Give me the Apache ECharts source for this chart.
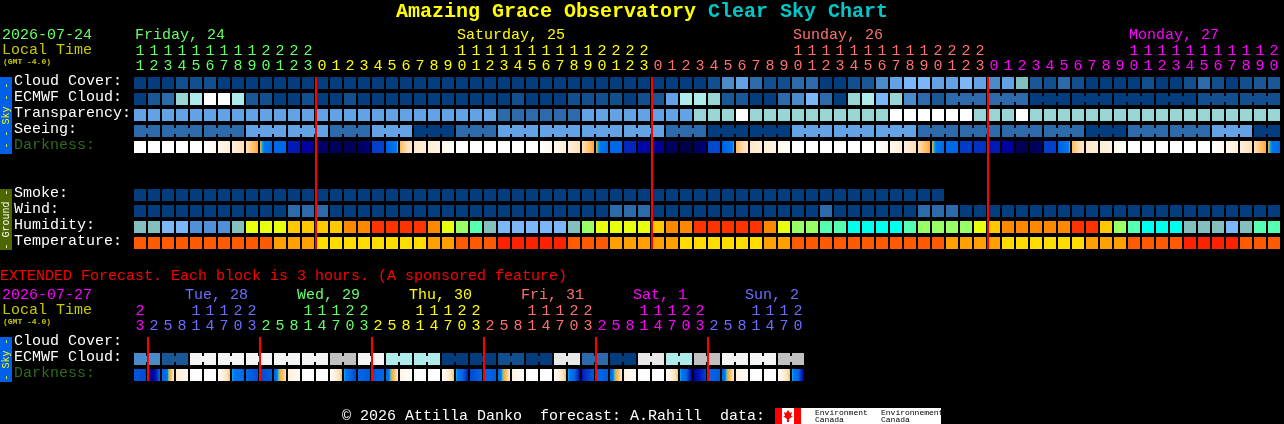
<!DOCTYPE html>
<html>
<head>
<meta charset="utf-8">
<style>html,body{margin:0;padding:0;background:#000}#c{width:1284px;height:424px}</style>
<script src="https://cdn.jsdelivr.net/npm/echarts@6/dist/echarts.min.js"></script>
</head>
<body>
<div id="c"></div>
<script>
// ---------- tick labels ----------
const mainHours = [11,12,13,14,15,16,17,18,19,20,21,22,23,
  0,1,2,3,4,5,6,7,8,9,10,11,12,13,14,15,16,17,18,19,20,21,22,23,
  0,1,2,3,4,5,6,7,8,9,10,11,12,13,14,15,16,17,18,19,20,21,22,23,
  0,1,2,3,4,5,6,7,8,9,10,11,12,13,14,15,16,17,18,19,20];
const extHours = [23,
  2,5,8,11,14,17,20,23, 2,5,8,11,14,17,20,23, 2,5,8,11,14,17,20,23,
  2,5,8,11,14,17,20,23, 2,5,8,11,14,17,20,23, 2,5,8,11,14,17,20];
const mainRows = ['Cloud Cover:','ECMWF Cloud:','Transparency:','Seeing:','Darkness:','',' ','Smoke:','Wind:','Humidity:','Temperature:'];
const extRows = ['Cloud Cover:','ECMWF Cloud:','Darkness:'];
const mainDays = [['Friday, 24',0],['Saturday, 25',23],['Sunday, 26',47],['Monday, 27',71]];
const extDays = [['Tue, 28',4],['Wed, 29',12],['Thu, 30',20],['Fri, 31',28],['Sat, 1',36],['Sun, 2',44]];
// first column of each day colour, for the two hour axes
const mainDayStarts = [0,13,37,61];
const extDayStarts = [0,1,9,17,25,33,41];
const mainMidnights = [13,37,61];
const extMidnights = [1,9,17,25,33,41];

// ---------- series values (levels) ----------
const cloudCover = [
 0,0,0,1,1,1,0,0,0,0,
 0,0,0,0,0,0,0,0,0,0,
 0,0,0,0,0,0,0,0,0,0,
 0,0,0,0,0,0,0,0,0,0,
 0,1,4,5,3,1,1,3,3,0,
 0,1,2,4,5,6,6,5,5,6,
 5,4,5,7,2,1,3,1,0,0,
 0,0,1,0,0,1,3,1,0,1,
 2,2];
const ecmwfCloud = [
 0,2,3,8,9,10,10,9,2,1,
 0,0,1,0,0,1,0,0,0,0,
 0,0,0,0,0,0,0,1,0,0,
 0,1,1,1,1,0,1,2,5,9,
 9,8,2,2,0,0,3,4,6,3,
 0,8,9,6,8,4,3,2,3,3,
 3,3,3,3,0,0,0,0,0,0,
 0,0,0,0,0,0,1,1,1,1,
 1,1];
const ecmwfGroupSizes = [1,1,1,1,1,1,1,1,1,1,1,1,1,1,1,1,1,1,1,1,1,1,1,1,1,1,1,1,1,
 1,1,1,1,1,1,1,1,1,1,1,1,1,1,1,1,1,1,1,1,1,1,1,1,1,1,1,1,1,3,3,3,3,3,3,3,3];
const transparency = [
 5,5,5,5,5,5,5,5,5,5,
 5,5,5,5,5,5,5,5,5,5,
 5,5,5,5,5,5,3,3,3,3,
 3,3,5,5,5,5,5,5,5,5,
 8,8,8,10,8,8,8,8,8,8,
 8,8,8,8,10,10,10,10,10,10,
 8,8,8,10,8,8,8,8,8,8,
 8,8,8,8,8,8,8,8,8,8,
 8,8];
const seeingBlocks = [3,3,3,5,5,3,5,0,3,5,5,5,5,3,0,0,5,5,5,3,3,3,3,0,3,3,5,0];
const seeingGroupSizes = [2,3,3,3,3,3,3,3,3,3,3,3,3,3,3,3,3,3,3,3,3,3,3,3,3,3,3,2];
const darkness = [
 [0],[0],[0],[0],[0],[0,1],[1,2],[2,3],[3,4],[4,6],
 [6],[8],[9],[10],[10.5],[10.5],[10.5,9.5],[7.2],[6.5,4.3],[3.7,2.5],
 [2.5,2],[2,1.5],[1,0.5],[0],[0],[0],[0],[0],[0],[0,1],
 [1,2],[2,3],[3,4],[4,6],[6],[7.7],[8.7],[9.2],[10.3],[11],
 [10.5,9.5],[7],[6.5,4.3],[3.7,2.6],[2.5,2],[2,1.5],[1,0.5],[0],[0],[0],
 [0],[0],[0],[0,1],[1,2],[2,3],[3,4],[4,6],[6],[7.3],
 [7.5],[8],[9],[10.3,10.8],[10.8,9.8],[7.2],[6.5,4.3],[3.7,2.6],[2.5,2],[2,1.5],
 [1,0.5],[0],[0],[0],[0],[0],[0],[0,1],[1,2],[2,3],
 [3,4],[4,6]];
const smoke = [
 0,0,0,0,0,0,0,0,0,0,
 0,0,0,0,0,0,0,0,0,0,
 0,0,0,0,0,0,0,0,0,0,
 0,0,0,0,0,0,0,0,0,0,
 0,0,0,0,0,0,0,0,0,0,
 0,0,0,0,0,0,0,0];
const wind = [
 0,0,0,0,0,0,0,0,0,0,
 0,1,1,1,0,0,0,0,0,0,
 0,0,0,0,0,0,0,0,0,0,
 0,0,0,0,1,1,1,0,0,0,
 0,0,0,0,0,0,0,0,0,1,
 0,0,0,0,0,0,1,1,1,0,
 0,0,0,0,0,0,0,0,0,0,
 0,0,0,0,0,0,0,0,0,0,
 0,0];
const humidity = [
 0,0,1,1,2,2,2,0,3,3,
 3,4,4,4,4,5,5,6,6,6,
 6,5,3,7,8,0,1,1,1,1,
 1,0,7,3,3,3,3,4,5,5,
 6,6,6,6,6,5,3,7,7,8,
 8,9,9,9,9,8,7,7,7,7,
 3,4,5,5,5,5,5,6,6,4,
 7,8,9,9,9,0,0,0,1,0,
 8,8];
const temperature = [
 1,1,1,1,1,1,1,1,1,1,
 2,2,2,3,3,3,3,3,3,3,
 3,2,2,1,1,1,0,0,0,0,
 0,1,1,1,2,2,2,2,2,3,
 3,3,3,3,3,2,2,1,1,1,
 1,1,1,1,1,1,1,1,2,2,
 2,2,3,3,3,3,3,3,2,2,
 2,1,1,1,1,0,0,0,0,1,
 1,1];
const extEcmwfBlocks = [4,2,11,11,11,11,11,13,11,9,9,0,0,1,0,12,3,0,12,9,13,11,11,13];
const extEcmwfGroupSizes = [2,2,2,2,2,2,2,2,2,2,2,2,2,2,2,2,2,2,2,2,2,2,2,2];
const extDarkness = [
 [6.5,7],[7.5,9.5,8,6],[6,6,4.3,3.7,2.5],[2.2,1],[0],[0],[0.5,2,3.7],[4.4,5,6],
 [6,6.8],[7,6.3],[6,4.3,3.7,3],[2,0.5],[0],[0],[0.5,2,3.7],[4.3,6,7],
 [6,6.5],[6.5,6],[6,4.3,3.7,2.5],[1.5,0],[0],[0],[0.5,2,3.7],[4.3,6,8],
 [7,6],[6,6.5],[6,4.3,3.7,2.5],[1.5,0.5],[0],[0],[0.5,2,3.7],[4.3,6,8.5],
 [8,6.5],[6,6.5],[6,4.3,3.7,2.5],[1.5,0.5],[0],[0],[0.5,2,3.7],[4.3,6,9],
 [9,7],[6,6.5],[6,4.3,3.7,2.5],[1.5,0.5],[0],[0],[0.5,2,3.7],[4.3,6,9]];

// ---------- colours ----------
const skyPalette = ['#033d7e','#124f8f','#1a5797','#2c6aab','#4c8bca','#63a2e4','#7ab6f8','#83bfbf','#99d5d5','#aeecec','#ffffff','#f4f4f4','#e8e8e8','#c0c0c0'];
const windPalette = ['#033d7e','#2c6aab'];
const humidityPalette = ['#83bfbf','#7ab6f8','#5090d8','#e8ff10','#ffc800','#ff8800','#ff3300','#99ff66','#55ffb0','#00ffee'];
const temperaturePalette = ['#ff2200','#ff5a00','#ffa000','#ffdd00'];
const darkScale = [[0,'#ffffff'],[1,'#fff8ee'],[2,'#ffeed8'],[3,'#ffe0b8'],[4,'#ffa838'],[4.15,'#b0b050'],[4.3,'#00c8ff'],[4.6,'#0078ee'],[6,'#0068e8'],[7,'#0048d0'],[8,'#0018b8'],[9,'#0000a0'],[10,'#000068'],[11,'#000048']];
const dayColorsMain = ['#66ff66','#ffff00','#ff7070','#ff00ff'];
const dayColorsExt = ['#ff00ff','#6e6eff','#66ff66','#ffff00','#ff7070','#ff00ff','#6e6eff'];
const FONT = '"Liberation Mono", monospace';

// ---------- helpers ----------
function hex(c){return [1,3,5].map(i=>parseInt(c.substr(i,2),16));}
function darkColor(v){
  let i=0; while(i<darkScale.length-2 && v>darkScale[i+1][0]) i++;
  const a=darkScale[i],b=darkScale[i+1],t=Math.max(0,Math.min(1,(v-a[0])/(b[0]-a[0])));
  const x=hex(a[1]),y=hex(b[1]);
  return 'rgb('+x.map((u,k)=>Math.round(u+(y[k]-u)*t)).join(',')+')';
}
function darkFill(levels){
  if(levels.length===1) return darkColor(levels[0]);
  const stops=[], n=24;
  for(let s=0;s<=n;s++){
    const f=s/n*(levels.length-1), i=Math.min(Math.floor(f),levels.length-2);
    stops.push({offset:s/n,color:darkColor(levels[i]+(levels[i+1]-levels[i])*(f-i))});
  }
  return {type:'linear',x:0,y:0,x2:1,y2:0,colorStops:stops};
}
function expand(values,sizes){
  const out=[]; values.forEach((v,g)=>{for(let k=0;k<sizes[g];k++) out.push(v);}); return out;
}
function joinFlags(sizes){
  const out=[]; sizes.forEach(s=>{for(let k=0;k<s;k++) out.push(k<s-1);}); return out;
}
function blockSeries(axisIndex,row,fills,joins){
  return {
    type:'custom',xAxisIndex:axisIndex,yAxisIndex:axisIndex,silent:true,clip:false,
    data:fills.map((f,i)=>[i,row]),
    renderItem(params,api){
      const i=api.value(0), c=api.coord([i,api.value(1)]), s=api.size([1,1]);
      const fill=fills[i], x=c[0]-s[0]/2+1, y=c[1]-s[1]/2+2, w=s[0]-2, h=s[1]-4;
      const kids=[{type:'rect',shape:{x,y,width:w,height:h},style:{fill}}];
      if(joins&&joins[i]) kids.push({type:'rect',shape:{x:x+w,y:y+3,width:2,height:h-6},style:{fill}});
      return {type:'group',children:kids};
    }
  };
}
function midnightSeries(axisIndex,cols){
  return {
    type:'custom',xAxisIndex:axisIndex,yAxisIndex:axisIndex,silent:true,clip:false,z:10,
    data:cols.map(c=>[c,0]),
    renderItem(params,api){
      const c=api.coord([api.value(0),0]), s=api.size([1,1]), g=params.coordSys;
      return {type:'rect',shape:{x:c[0]-s[0]/2,y:g.y+2,width:2,height:g.height-4},style:{fill:'#ff0000'}};
    }
  };
}
function dayColor(starts,colors,i){
  let k=0; starts.forEach((s,j)=>{if(i>=s)k=j;}); return colors[k];
}
function xAxis(gridIndex,hours,starts,colors){
  return {
    type:'category',gridIndex,position:'top',data:hours.map(String),
    axisLine:{show:false},axisTick:{show:false},splitLine:{show:false},
    axisLabel:{
      interval:0,margin:1,hideOverlap:false,
      fontFamily:FONT,fontSize:15,lineHeight:15,verticalAlign:'bottom',
      formatter:v=>(+v>=10?Math.floor(+v/10):' ')+'\n'+(+v%10),
      color:(v,i)=>dayColor(starts,colors,i)
    }
  };
}
function yAxis(gridIndex,rows){
  return {
    type:'category',gridIndex,inverse:true,data:rows,
    axisLine:{show:false},axisTick:{show:false},splitLine:{show:false},
    axisLabel:{
      interval:0,align:'left',margin:119,fontFamily:FONT,fontSize:15,
      verticalAlign:'bottom',lineHeight:4,
      color:v=>v==='Darkness:'?'#2f6a1f':'#ffffff'
    }
  };
}
function txt(text,x,y,fill,size,weight){
  return {type:'text',x,y,silent:true,z:5,
    style:{text,fill,font:(weight?weight+' ':'')+(size||15)+'px '+FONT,verticalAlign:'middle',align:'left'}};
}
function vtxt(text,x,y,fill){
  return {type:'text',x,y,rotation:Math.PI/2,silent:true,z:6,
    style:{text,fill,font:'10px '+FONT,verticalAlign:'middle',align:'center'}};
}
function rect(x,y,width,height,fill){
  return {type:'rect',silent:true,z:4,shape:{x,y,width,height},style:{fill}};
}
const val=(arr,pal)=>arr.map(v=>pal[v]);

const series=[
  blockSeries(0,0,val(cloudCover,skyPalette)),
  blockSeries(0,1,val(ecmwfCloud,skyPalette),joinFlags(ecmwfGroupSizes)),
  blockSeries(0,2,val(transparency,skyPalette)),
  blockSeries(0,3,val(expand(seeingBlocks,seeingGroupSizes),skyPalette),joinFlags(seeingGroupSizes)),
  blockSeries(0,4,darkness.map(darkFill)),
  blockSeries(0,7,val(smoke,skyPalette)),
  blockSeries(0,8,val(wind,windPalette)),
  blockSeries(0,9,val(humidity,humidityPalette)),
  blockSeries(0,10,val(temperature,temperaturePalette)),
  midnightSeries(0,mainMidnights),
  blockSeries(1,1,val(expand(extEcmwfBlocks,extEcmwfGroupSizes),skyPalette),joinFlags(extEcmwfGroupSizes)),
  blockSeries(1,2,extDarkness.map(darkFill)),
  midnightSeries(1,extMidnights)
];

const graphics=[
  txt('2026-07-24',2,35,'#66ff66'),
  txt('Local Time',2,50,'#c8c800'),
  txt('(GMT -4.0)',3,62,'#c8c800',8,'bold'),
  txt('EXTENDED Forecast. Each block is 3 hours. (A sponsored feature)',0,276,'#ff0000'),
  txt('2026-07-27',2,295,'#ff00ff'),
  txt('Local Time',2,310,'#c8c800'),
  txt('(GMT -4.0)',3,322,'#c8c800',8,'bold'),
  rect(0,77,12,77,'#0060e8'),
  vtxt('- - Sky - -',6,115.5,'#ffff00'),
  rect(0,189,12,61,'#4d6600'),
  vtxt('- Ground -',6,219.5,'#ffffff'),
  rect(0,337,12,45,'#0060e8'),
  vtxt('- Sky -',6,359.5,'#ffff00'),
  txt('\u00a9 2026 Attilla Danko  forecast: A.Rahill  data:',342,416,'#ffffff'),
  rect(775,408,166,16,'#ffffff'),
  rect(775,408,7,16,'#ff0000'),
  rect(794,408,7,16,'#ff0000'),
  {type:'polygon',silent:true,z:5,shape:{points:[[788,410],[790,413],[792,412],[791,416],[793,416],[789,419],[789,422],[787,422],[787,419],[783,416],[785,416],[784,412],[786,413]]},style:{fill:'#ff0000'}},
  txt('Environment',815,413,'#000000',8),
  txt('Canada',815,420,'#000000',8),
  txt('Environnement',881,413,'#000000',8),
  txt('Canada',881,420,'#000000',8)
];
mainDays.forEach(d=>graphics.push(txt(d[0],135+14*d[1],35,dayColor(mainDayStarts,dayColorsMain,d[1]))));
extDays.forEach(d=>graphics.push(txt(d[0],129+14*d[1],295,dayColor(extDayStarts,dayColorsExt,d[1]))));

const chart=echarts.init(document.getElementById('c'),null,{renderer:'canvas'});
chart.setOption({
  animation:false,
  backgroundColor:'#000000',
  title:{
    left:396,top:2,padding:0,
    text:'{a|Amazing Grace Observatory }{b|Clear Sky Chart}',
    textStyle:{rich:{
      a:{color:'#ffff00',fontFamily:FONT,fontSize:20,fontWeight:'bold'},
      b:{color:'#00c8c8',fontFamily:FONT,fontSize:20,fontWeight:'bold'}
    }}
  },
  grid:[
    {left:133,top:75,width:1148,height:176},
    {left:133,top:335,width:672,height:48}
  ],
  xAxis:[xAxis(0,mainHours,mainDayStarts,dayColorsMain),xAxis(1,extHours,extDayStarts,dayColorsExt)],
  yAxis:[yAxis(0,mainRows),yAxis(1,extRows)],
  series,
  graphic:{elements:graphics}
});
</script>
</body>
</html>
